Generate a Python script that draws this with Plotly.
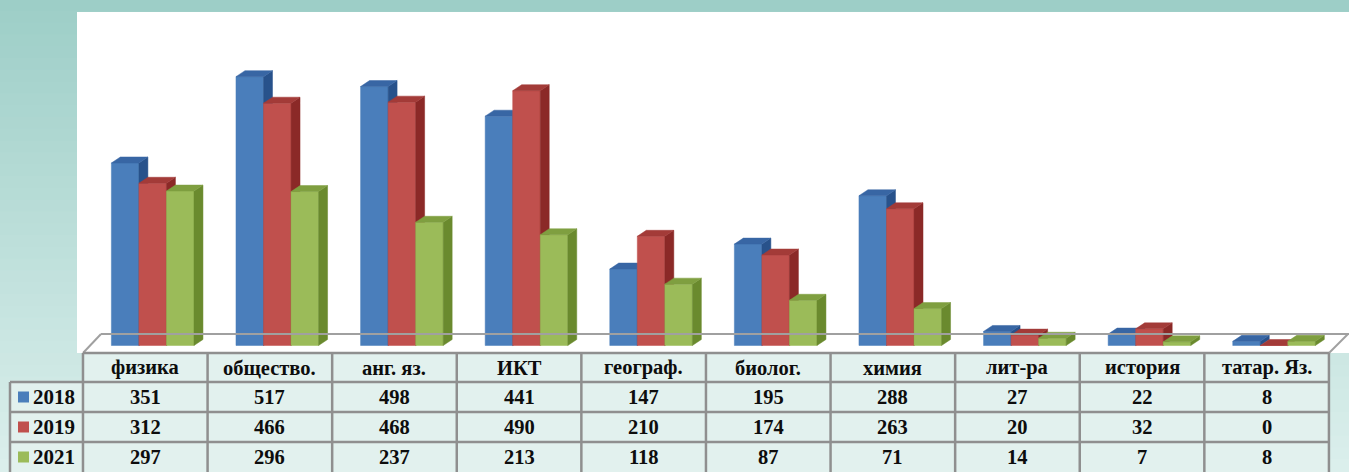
import plotly.graph_objects as go

categories = ["физика", "общество.", "анг. яз.", "ИКТ", "географ.", "биолог.",
              "химия", "лит-ра", "история", "татар. Яз."]
years = ["2018", "2019", "2021"]
values_2018 = [351, 517, 498, 441, 147, 195, 288, 27, 22, 8]
values_2019 = [312, 466, 468, 490, 210, 174, 263, 20, 32, 0]
values_2021 = [297, 296, 237, 213, 118, 87, 71, 14, 7, 8]
series = [values_2018, values_2019, values_2021]

front_colors = ["#4a7ebb", "#c0504d", "#9bbb59"]
top_colors = ["#3866a4", "#a33b38", "#7f9f40"]
side_colors = ["#28528b", "#8b2927", "#6a8a2e"]

W, H = 1349, 472
GRID = "#8f8f8f"
FONT = "Liberation Serif"

# bar geometry in axis units (pseudo 3d)
bar_w = 0.221
offsets = [-0.272, -0.051, 0.170]
dx, dy = 0.072, 11.5


def px(xp):
    return xp / W


def py(yp):
    return 1 - yp / H


def mix(c1, c2, t):
    a = [int(c1[k:k + 2], 16) for k in (1, 3, 5)]
    b = [int(c2[k:k + 2], 16) for k in (1, 3, 5)]
    return "#" + "".join(f"{round(p + (q - p) * t):02x}" for p, q in zip(a, b))


fig = go.Figure()

# painter's order: each series front -> side -> top, left to right
for s, vals in enumerate(series):
    fx, fy, sx, sy, tx, ty = [], [], [], [], [], []
    for i, v in enumerate(vals):
        x0 = i + offsets[s]
        x1 = x0 + bar_w
        fx += [x0, x1, x1, x0, x0, None]
        fy += [0, 0, v, v, 0, None]
        sx += [x1, x1 + dx, x1 + dx, x1, x1, None]
        sy += [0, dy, v + dy, v, 0, None]
        tx += [x0, x1, x1 + dx, x0 + dx, x0, None]
        ty += [v, v, v + dy, v + dy, v, None]
    for xs, ys, col in ((fx, fy, front_colors[s]), (sx, sy, side_colors[s]),
                        (tx, ty, top_colors[s])):
        fig.add_trace(go.Scatter(x=xs, y=ys, mode="lines", fill="toself",
                                 fillcolor=col, line=dict(color=col, width=0.5),
                                 hoverinfo="skip", showlegend=False))

shapes = []
# teal slide background, soft vertical gradient
n_bands = 40
for b in range(n_bands):
    shapes.append(dict(type="rect", xref="paper", yref="paper", x0=0, x1=1,
                       y0=1 - (b + 1) / n_bands, y1=1 - b / n_bands + 0.002,
                       fillcolor=mix("#9dcec7", "#dbefec", b / (n_bands - 1)),
                       line_width=0, layer="below"))
shapes.append(dict(type="rect", xref="paper", yref="paper", x0=px(77), x1=1,
                   y0=py(353), y1=py(12), fillcolor="white", line_width=0, layer="below"))
shapes.append(dict(type="rect", xref="paper", yref="paper", x0=px(83), x1=px(1329),
                   y0=py(382), y1=py(353), fillcolor="#e2f1ee", line_width=0, layer="below"))
shapes.append(dict(type="rect", xref="paper", yref="paper", x0=px(10), x1=px(1329),
                   y0=0, y1=py(382), fillcolor="#e2f1ee", line_width=0, layer="below"))

# floor
floor = dict(color="#a0a0a0", width=2)
shapes.append(dict(type="line", xref="paper", yref="paper", x0=px(101), x1=1,
                   y0=py(334), y1=py(334), line=floor))
shapes.append(dict(type="line", xref="paper", yref="paper", x0=px(83), x1=px(101),
                   y0=py(353), y1=py(334), line=floor))
shapes.append(dict(type="line", xref="paper", yref="paper", x0=px(1329), x1=px(1348),
                   y0=py(353), y1=py(334), line=floor))

# data table grid
grid = dict(color=GRID, width=2.5)
for k in range(len(categories) + 1):
    shapes.append(dict(type="line", xref="x", yref="paper", x0=k - 0.5, x1=k - 0.5,
                       y0=0, y1=py(353), line=grid))
shapes.append(dict(type="line", xref="paper", yref="paper", x0=px(10), x1=px(10),
                   y0=0, y1=py(382), line=grid))
shapes.append(dict(type="line", xref="paper", yref="paper", x0=px(83), x1=px(1329),
                   y0=py(353), y1=py(353), line=grid))
for yl in (382, 412, 442):
    shapes.append(dict(type="line", xref="paper", yref="paper", x0=px(10), x1=px(1329),
                       y0=py(yl), y1=py(yl), line=grid))

annotations = []
font = dict(family=FONT, size=20.5, color="#0d0d0d", weight="bold")
for i, c in enumerate(categories):
    annotations.append(dict(x=i, y=py(367.5), xref="x", yref="paper", text=c,
                            xanchor="center", yanchor="middle",
                            showarrow=False, font=font))
row_y = [397, 427, 457]
for s, vals in enumerate(series):
    for i, v in enumerate(vals):
        annotations.append(dict(x=i, y=py(row_y[s]), xref="x", yref="paper", text=str(v),
                                xanchor="center", yanchor="middle",
                                showarrow=False, font=font))
    shapes.append(dict(type="rect", xref="paper", yref="paper", x0=px(18), x1=px(29),
                       y0=py(row_y[s] + 5.5), y1=py(row_y[s] - 5.5),
                       fillcolor=front_colors[s], line_width=0))
    annotations.append(dict(x=px(31), y=py(row_y[s]), xref="paper", yref="paper",
                            xanchor="left", yanchor="middle", text=years[s],
                            showarrow=False, font=dict(font, size=21)))

fig.update_layout(
    width=W, height=H,
    margin=dict(l=0, r=0, t=0, b=0),
    paper_bgcolor="#b8dcd7",
    plot_bgcolor="rgba(0,0,0,0)",
    showlegend=False,
    xaxis=dict(range=[-1.166, 9.661], visible=False, fixedrange=True),
    yaxis=dict(range=[-243.3, 664.4], visible=False, fixedrange=True),
    shapes=shapes,
    annotations=annotations,
)

fig.write_html("out.html", config={"displayModeBar": False},
               post_script="document.body.style.margin='0';")
